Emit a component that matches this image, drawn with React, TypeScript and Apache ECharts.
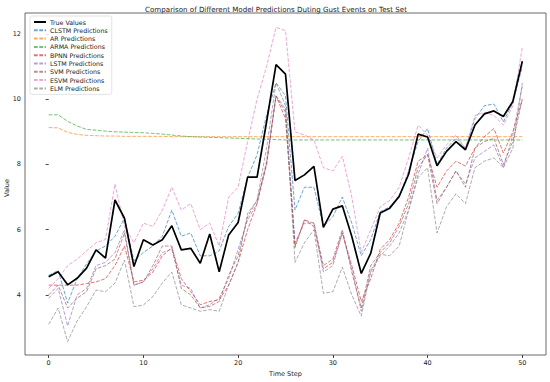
import React, { useEffect, useRef } from "react";
import * as echarts from "echarts";

const steps = Array.from({ length: 51 }, (_, i) => i);
const xTicks = [0, 10, 20, 30, 40, 50];
const yTicks = [4, 6, 8, 10, 12];

const trueValues = [4.56, 4.71, 4.31, 4.51, 4.82, 5.38, 5.13, 6.91, 6.35, 4.87, 5.69, 5.53, 5.69, 6.12, 5.38, 5.43, 4.97, 5.87, 4.71, 5.84, 6.22, 7.61, 7.61, 9.3, 11.06, 10.77, 7.51, 7.68, 7.94, 6.07, 6.63, 6.73, 5.79, 4.66, 5.28, 6.51, 6.66, 7.02, 7.7, 8.93, 8.84, 7.96, 8.4, 8.7, 8.45, 9.21, 9.55, 9.64, 9.47, 9.93, 11.16];
const clstm = [4.6, 4.75, 3.75, 4.5, 4.95, 5.35, 5.5, 5.8, 6.35, 5.05, 5.3, 5.5, 5.8, 6.6, 5.8, 5.9, 5.2, 5.2, 5.35, 6.1, 6.5, 7.6, 8.3, 9.5, 10.5, 10.1, 6.6, 7.3, 7.3, 6.1, 6.4, 7.0, 6.2, 5.2, 5.7, 6.55, 6.7, 7.0, 7.8, 8.7, 9.1, 8.0, 8.5, 8.8, 8.5, 9.4, 9.8, 9.85, 9.3, 9.9, 11.0];
const ar = [9.13, 9.12, 8.98, 8.92, 8.89, 8.88, 8.87, 8.87, 8.86, 8.86, 8.86, 8.86, 8.86, 8.85, 8.85, 8.85, 8.85, 8.85, 8.85, 8.85, 8.85, 8.85, 8.85, 8.85, 8.85, 8.85, 8.85, 8.85, 8.85, 8.85, 8.85, 8.85, 8.85, 8.85, 8.85, 8.85, 8.85, 8.85, 8.85, 8.85, 8.85, 8.85, 8.85, 8.85, 8.85, 8.85, 8.85, 8.85, 8.85, 8.85, 8.85];
const arma = [9.52, 9.52, 9.32, 9.18, 9.07, 9.05, 9.02, 9.0, 8.99, 8.98, 8.97, 8.95, 8.93, 8.9, 8.87, 8.85, 8.84, 8.83, 8.82, 8.81, 8.8, 8.79, 8.78, 8.77, 8.76, 8.75, 8.75, 8.75, 8.75, 8.75, 8.75, 8.75, 8.75, 8.75, 8.75, 8.75, 8.75, 8.75, 8.75, 8.75, 8.75, 8.75, 8.75, 8.75, 8.75, 8.75, 8.75, 8.75, 8.75, 8.75, 8.75];
const bpnn = [4.3, 4.3, 4.3, 4.3, 4.35, 4.4, 4.5, 4.9, 5.5, 4.4, 4.45, 4.7, 5.2, 5.45, 4.5, 4.1, 3.7, 3.8, 3.85, 4.3, 5.0, 6.0, 6.8, 8.0, 10.1, 9.4, 5.5, 6.3, 6.1, 4.8, 5.0, 5.9, 4.9, 3.8, 4.5, 5.4, 5.7, 6.2, 7.0, 8.1, 8.3, 7.3, 7.8, 8.1, 7.95, 8.5, 8.85, 9.1, 8.35, 9.0, 10.0];
const lstm = [3.9, 4.2, 3.05, 4.0, 4.2, 4.9, 5.0, 5.3, 6.0, 4.3, 4.4, 4.8, 5.3, 5.4, 4.3, 4.2, 3.6, 3.7, 3.9, 4.5, 5.4, 6.3, 6.8, 8.1, 10.1, 9.7, 5.6, 6.2, 6.2, 4.7, 4.9, 5.9, 4.8, 3.5, 4.7, 5.2, 5.5, 5.9, 6.6, 7.7, 8.5, 6.9, 7.3, 7.8, 7.4, 8.2, 8.4, 8.6, 7.9, 8.5, 10.5];
const svm = [4.0, 4.3, 3.6, 3.9, 4.1, 4.8, 4.9, 5.1, 5.9, 4.3, 4.4, 4.9, 5.5, 5.5, 4.2, 4.0, 3.6, 3.65, 3.8, 4.6, 5.2, 6.4, 6.9, 8.0, 10.1, 9.6, 5.45, 6.3, 6.2, 4.9, 5.1, 6.0, 4.7, 3.6, 4.9, 5.3, 5.6, 6.1, 6.8, 7.9, 8.3, 6.8, 7.3, 7.8, 7.3, 8.5, 8.7, 8.8, 8.0, 8.7, 10.0];
const esvm = [4.2, 4.5, 4.9, 5.1, 5.35, 5.6, 5.7, 7.4, 6.1, 5.6, 6.2, 6.1, 6.6, 7.3, 6.6, 6.8, 6.0, 6.2, 5.5, 7.0, 7.3, 8.7, 10.0, 11.0, 12.2, 12.1, 9.0, 8.9, 8.75, 7.9, 7.8, 8.25, 7.0, 5.3, 6.0, 6.7, 6.9, 7.3, 8.2, 9.2, 8.9, 8.2, 8.6, 8.9, 8.5, 9.5, 9.6, 9.5, 9.2, 9.8, 11.6];
const elm = [3.1, 3.6, 2.57, 3.2, 3.64, 4.15, 4.1, 4.36, 5.07, 3.64, 3.69, 3.95, 4.37, 4.7, 3.7, 3.6, 3.5, 3.55, 3.5, 4.3, 5.0, 6.5, 6.9, 8.5, 10.5, 9.8, 5.0, 5.6, 6.0, 4.05, 4.1, 4.85, 4.0, 3.35, 4.75, 5.25, 5.2, 5.5, 6.6, 7.6, 7.9, 5.9, 6.7, 7.1, 6.8, 7.9, 8.1, 8.2, 7.9, 8.9, 10.4];

const predSeries: [string, number[], string][] = [
  ["CLSTM Predictions", clstm, "#1f77b4"],
  ["AR Predictions", ar, "#ff7f0e"],
  ["ARMA Predictions", arma, "#2ca02c"],
  ["BPNN Predictions", bpnn, "#d62728"],
  ["LSTM Predictions", lstm, "#9467bd"],
  ["SVM Predictions", svm, "#8c564b"],
  ["ESVM Predictions", esvm, "#e377c2"],
  ["ELM Predictions", elm, "#7f7f7f"],
];

const FONT = "DejaVu Sans";

export default function App() {
  const ref = useRef<HTMLDivElement>(null);
  useEffect(() => {
    if (!ref.current) return;
    const chart = echarts.init(ref.current, undefined, { renderer: "svg" });
    const pair = (arr: number[]) => arr.map((v, i) => [steps[i], v]);
    const series: any[] = [
      {
        name: "True Values",
        type: "line",
        data: pair(trueValues),
        symbol: "none",
        lineStyle: { color: "#000", width: 1.7 },
        itemStyle: { color: "#000" },
        z: 10,
      },
      ...predSeries.map(([name, arr, color]) => ({
        name,
        type: "line",
        data: pair(arr),
        symbol: "none",
        lineStyle: { color, width: 1, type: [3.7, 1.6], opacity: 0.65 },
        itemStyle: { color, opacity: 0.65 },
      })),
    ];
    chart.setOption({
      animation: false,
      backgroundColor: "#fff",
      title: {
        text: "Comparison of Different Model Predictions Duting Gust Events on Test Set",
        left: 271,
        top: 1,
        textAlign: "center",
        textStyle: { fontFamily: FONT, fontSize: 7.1, fontWeight: "normal", color: "#222" },
      },
      graphic: [
        {
          type: "text",
          x: 7,
          y: 188,
          rotation: Math.PI / 2,
          style: {
            text: "Value",
            fontFamily: FONT,
            fontSize: 6.5,
            fill: "#222",
            textAlign: "center",
            textVerticalAlign: "middle",
          },
        },
      ],
      legend: {
        orient: "vertical",
        left: 30,
        top: 16,
        itemWidth: 12,
        itemHeight: 6,
        itemGap: 2.3,
        padding: [3, 4, 3, 3],
        backgroundColor: "rgba(255,255,255,0.85)",
        borderColor: "#ddd",
        borderWidth: 0.8,
        borderRadius: 2,
        itemStyle: { opacity: 0 },
        textStyle: { fontFamily: FONT, fontSize: 6.3, color: "#222", padding: [0, 0, 0, -1] },
        data: ["True Values", ...predSeries.map((s) => s[0])],
      },
      grid: {
        left: 25,
        right: 4,
        top: 13,
        bottom: 27,
        show: true,
        borderColor: "#444",
        borderWidth: 0.8,
        containLabel: false,
        outerBoundsMode: "none",
      },
      xAxis: {
        type: "value",
        min: -2.5,
        max: 52.5,
        name: "Time Step",
        nameLocation: "middle",
        nameGap: 15,
        nameTextStyle: { fontFamily: FONT, fontSize: 6.5, color: "#222" },
        axisLine: { show: false },
        splitLine: { show: false },
        axisTick: { show: true, length: 3, inside: false, customValues: xTicks, lineStyle: { color: "#444" } },
        axisLabel: { customValues: xTicks, fontFamily: FONT, fontSize: 6.5, color: "#222", margin: 4 },
      },
      yAxis: {
        type: "value",
        min: 2.16,
        max: 12.64,
        axisLine: { show: false },
        splitLine: { show: false },
        axisTick: { show: true, length: 3, customValues: yTicks, lineStyle: { color: "#444" } },
        axisLabel: { customValues: yTicks, fontFamily: FONT, fontSize: 6.5, color: "#222", margin: 4 },
      },
      series,
    });
    return () => chart.dispose();
  }, []);
  return <div ref={ref} style={{ width: 550, height: 382, position: "absolute", left: 0, top: 0 }} />;
}
